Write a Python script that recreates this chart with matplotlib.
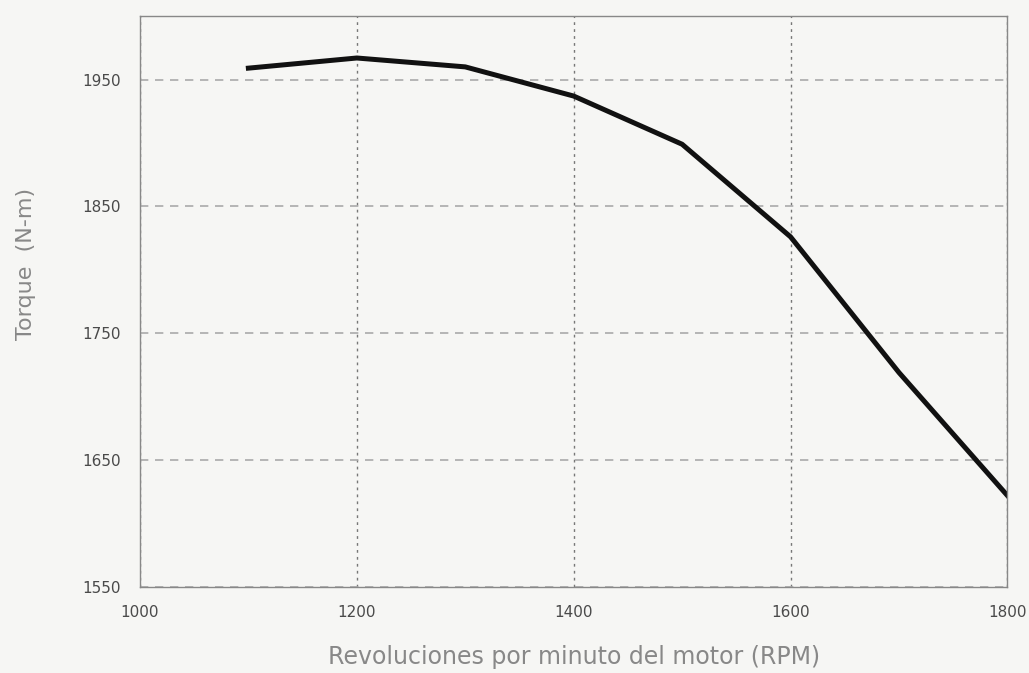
import matplotlib
matplotlib.use("Agg")
import matplotlib.pyplot as plt

rpm = [1100, 1200, 1300, 1400, 1500, 1600, 1700, 1800]
torque = [1959, 1967, 1960, 1937, 1899, 1826, 1719, 1622]
x_ticks = [1000, 1200, 1400, 1600, 1800]
y_ticks = [1550, 1650, 1750, 1850, 1950]

plt.rcParams['font.family'] = ['DejaVu Sans']
fig = plt.figure(figsize=(10.29, 6.73), dpi=100)
fig.patch.set_facecolor('#f6f6f4')
ax = fig.add_axes([0.136, 0.128, 0.843, 0.848])
ax.set_facecolor('#f6f6f4')

ax.plot(rpm, torque, color='#111111', linewidth=3.6, solid_joinstyle='round')

ax.set_xlim(1000, 1800)
ax.set_ylim(1550, 2000)
ax.set_xticks(x_ticks)
ax.set_yticks(y_ticks)

# vertical grid darker, horizontal lighter
ax.grid(axis='x', color='#777777', linestyle=(0, (2, 3)), linewidth=1.0)
ax.grid(axis='y', color='#aaaaaa', linestyle=(0, (5, 4)), linewidth=1.2)

ax.tick_params(length=0, labelsize=11, labelcolor='#4a4a4a')
ax.tick_params(axis='x', pad=13)
ax.tick_params(axis='y', pad=14)
for s in ax.spines.values():
    s.set_color('#888888')
    s.set_linewidth(1.0)

ax.set_xlabel("Revoluciones por minuto del motor (RPM)", fontsize=17, color='#888888', labelpad=18)
ax.set_ylabel("Torque  (N-m)", fontsize=16, color='#888888')
ax.yaxis.set_label_coords(-0.12, 0.565)

fig.savefig("out.png", dpi=100, facecolor=fig.get_facecolor())
